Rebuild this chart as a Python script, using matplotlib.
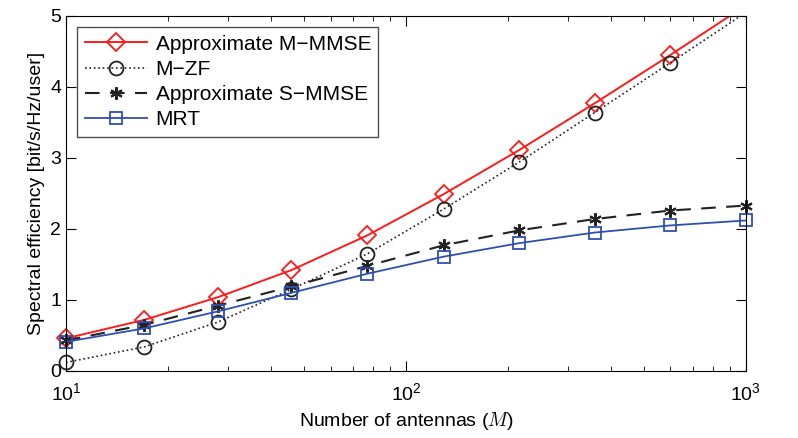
import matplotlib.pyplot as plt
from matplotlib.transforms import Bbox, TransformedBbox

plt.rcParams['font.family'] = ['Liberation Sans', 'DejaVu Sans']
plt.rcParams['mathtext.fontset'] = 'cm'

antennas = [10, 17, 28, 46, 77, 129, 215, 359, 599, 1000]
m_mmse = [0.46, 0.72, 1.04, 1.42, 1.91, 2.49, 3.11, 3.77, 4.45, 5.15]
m_zf = [0.12, 0.34, 0.69, 1.15, 1.65, 2.28, 2.94, 3.64, 4.34, 5.05]
s_mmse = [0.43, 0.65, 0.92, 1.19, 1.48, 1.77, 1.98, 2.14, 2.26, 2.33]
mrt = [0.41, 0.60, 0.84, 1.10, 1.37, 1.61, 1.80, 1.95, 2.05, 2.12]

ymax = 5


def inside(vals):
    # like MATLAB: no marker for points outside the axes
    return [i for i, v in enumerate(vals) if v <= ymax]


fig = plt.figure(figsize=(7.98, 4.38), dpi=100)
ax = fig.add_axes([0.0827, 0.153, 0.852, 0.8105])

lines = []
lines += ax.plot(antennas, m_mmse, '-', color='#ff1a1a', lw=1.4, marker='D', ms=9,
                 mfc='none', mec='#ff1a1a', mew=1.3, markevery=inside(m_mmse),
                 label='Approximate M\u2212MMSE')
lines += ax.plot(antennas, m_zf, ':', color='#222222', lw=1.2, marker='o', ms=10,
                 mfc='none', mec='#222222', mew=1.3, markevery=inside(m_zf),
                 label='M\u2212ZF')
lines += ax.plot(antennas, s_mmse, '--', color='#222222', lw=1.5, marker=(6, 2, 0), ms=9,
                 mew=1.5, dashes=(7, 5), label='Approximate S\u2212MMSE')
lines += ax.plot(antennas, mrt, '-', color='#2e4fb0', lw=1.3, marker='s', ms=8,
                 mfc='none', mec='#2e4fb0', mew=1.3, label='MRT')

# clip only at top/bottom so edge markers stay whole
clip = TransformedBbox(Bbox([[-0.05, -0.05], [1.05, 1.0]]), ax.transAxes)
for ln in lines:
    ln.set_clip_box(clip)

ax.set_xscale('log')
ax.set_xlim(10, 1000)
ax.set_ylim(0, ymax)
ax.set_yticks([0, 1, 2, 3, 4, 5])
ax.tick_params(which='both', direction='in', top=True, right=True, labelsize=14)
ax.tick_params(which='major', length=7)
ax.tick_params(which='minor', length=3.5)
ax.tick_params(axis='x', pad=8)

ax.set_xlabel('Number of antennas ($M$)', fontsize=14)
ax.set_ylabel('Spectral efficiency [bit/s/Hz/user]', fontsize=14)

leg = ax.legend(loc='upper left', fontsize=15, frameon=True, fancybox=False,
                edgecolor='#222222', handlelength=3.0, borderpad=0.35,
                labelspacing=0.3, borderaxespad=0.55, handletextpad=0.4)
leg.get_frame().set_linewidth(1.0)

fig.savefig('out.png', dpi=100)
